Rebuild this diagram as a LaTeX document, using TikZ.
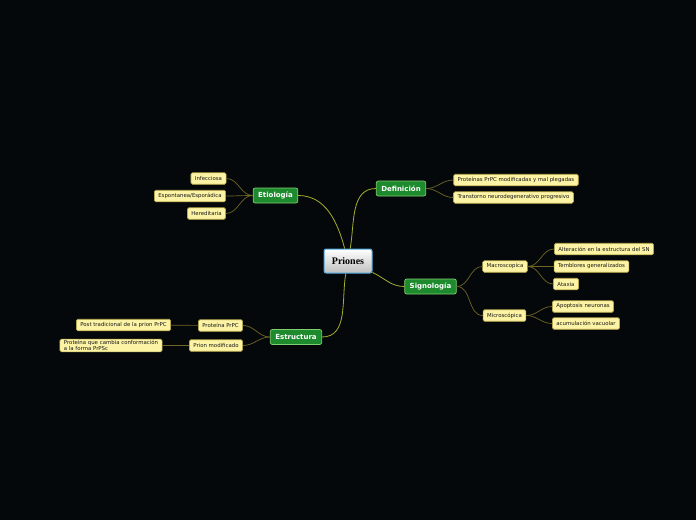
\documentclass[tikz,border=0pt]{standalone}
\usepackage{fontspec}
\setmainfont{DejaVu Sans}
\newfontfamily\rootfont{Liberation Serif}
\usepackage{tikz}
\usetikzlibrary{positioning}
\definecolor{NightBg}{HTML}{05080B}
\definecolor{TopicGreen}{HTML}{1E8A2E}
\definecolor{TopicEdge}{HTML}{7FCF6F}
\definecolor{LeafYellow}{HTML}{FCF3A4}
\definecolor{LeafEdge}{HTML}{B9A94A}
\definecolor{RootBlue}{HTML}{4BA6DA}
\definecolor{MainLine}{HTML}{A3AE2A}
\definecolor{LeafLine}{HTML}{6E6624}

\begin{document}
\begin{tikzpicture}[x=1pt, y=-1pt,
    rootnode/.style={draw=RootBlue, line width=1pt, rounded corners=2pt, top color=white, bottom color=gray!50, minimum width=48pt, minimum height=24pt, font=\rootfont\bfseries\fontsize{10}{12}\selectfont},
    topic/.style={draw=TopicEdge, fill=TopicGreen, line width=0.7pt, rounded corners=2pt, text=white, font=\bfseries\fontsize{7}{8}\selectfont, minimum height=15pt, inner xsep=5pt, inner ysep=1pt},
    leaf/.style={draw=LeafEdge, fill=LeafYellow, line width=0.6pt, rounded corners=1.5pt, text=black!90, font=\fontsize{5.4}{6.4}\selectfont, minimum height=11.5pt, inner xsep=4pt, inner ysep=1pt},
    mainlink/.style={draw=MainLine, line width=0.8pt},
    leaflink/.style={draw=LeafLine, line width=0.7pt}]
  \fill[NightBg] (0,0) rectangle (696,520);

  % centre
  \node[rootnode] (priones) at (348,261) {Priones};

  % main topics
  \node[topic] (etiologia) at (275.5,195.5) {Etiología};
  \node[topic] (definicion) at (401,188.5) {Definición};
  \node[topic] (signologia) at (430.5,286.5) {Signología};
  \node[topic] (estructura) at (296,337) {Estructura};

  % Etiologia
  \node[leaf] (infecciosa) at (208.5,178.5) {Infecciosa};
  \node[leaf] (espontanea) at (190,196) {Espontanea/Esporádica};
  \node[leaf] (hereditaria) at (206.5,213.5) {Hereditaria};

  % Definicion
  \node[leaf] (plegadas) at (516,180) {Proteínas PrPC modificadas y mal plegadas};
  \node[leaf] (transtorno) at (513.5,197.5) {Transtorno neurodegenerativo progresivo};

  % Signologia
  \node[leaf] (macro) at (505,266.5) {Macroscopica};
  \node[leaf] (micro) at (504.5,315.5) {Microscópica};
  \node[leaf] (alteracion) at (604,249) {Alteración en la estructura del SN};
  \node[leaf] (temblores) at (591.5,266.5) {Temblores generalizados};
  \node[leaf] (ataxia) at (566,284) {Ataxia};
  \node[leaf] (apoptosis) at (583,306.5) {Apoptosis neuronas};
  \node[leaf] (vacuolar) at (586,323.5) {acumulación vacuolar};

  % Estructura
  \node[leaf] (prpc) at (220.5,325.5) {Proteína PrPC};
  \node[leaf] (modificado) at (216,345.5) {Prion modificado};
  \node[leaf] (post) at (123.5,325) {Post tradicional de la prion PrPC};
  \node[leaf, align=left] (cambia) at (111,345.5) {Proteína que cambia conformación\\a la forma PrPSc};

  % links from the centre
  \draw[mainlink] (priones) to[out=105, in=0] (etiologia);
  \draw[mainlink] (priones) to[out=80, in=180] (definicion);
  \draw[mainlink] (priones) to[out=-25, in=180] (signologia);
  \draw[mainlink] (priones) to[out=-100, in=0] (estructura);

  % links to the leaves
  \foreach \kid in {infecciosa, espontanea, hereditaria}
    \draw[leaflink] (etiologia.west) to[out=180, in=0] (\kid.east);
  \foreach \kid in {plegadas, transtorno}
    \draw[leaflink] (definicion.east) to[out=0, in=180] (\kid.west);
  \foreach \kid in {macro, micro}
    \draw[leaflink] (signologia.east) to[out=0, in=180] (\kid.west);
  \foreach \kid in {alteracion, temblores, ataxia}
    \draw[leaflink] (macro.east) to[out=0, in=180] (\kid.west);
  \foreach \kid in {apoptosis, vacuolar}
    \draw[leaflink] (micro.east) to[out=0, in=180] (\kid.west);
  \foreach \kid in {prpc, modificado}
    \draw[leaflink] (estructura.west) to[out=180, in=0] (\kid.east);
  \draw[leaflink] (prpc) -- (post);
  \draw[leaflink] (modificado) -- (cambia);
\end{tikzpicture}
\end{document}
